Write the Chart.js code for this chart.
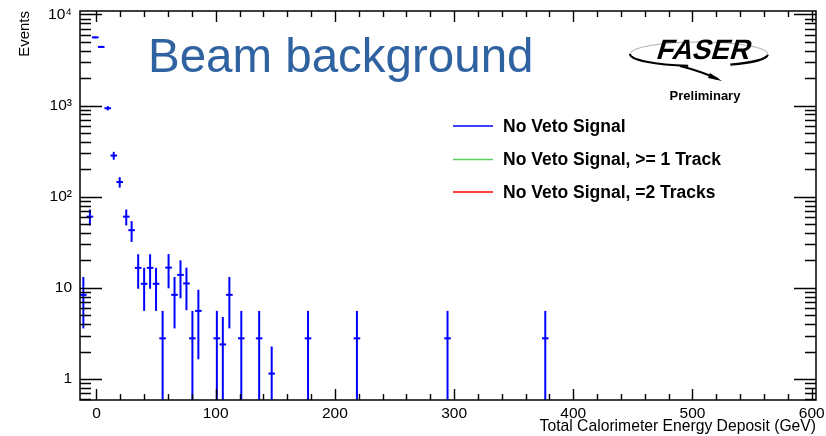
<!DOCTYPE html>
<html>
<head>
<meta charset="utf-8">
<script src="https://cdn.jsdelivr.net/npm/chart.js@4.4.1/dist/chart.umd.min.js"></script>
<style>
  html, body { margin: 0; padding: 0; background: #fff; }
</style>
</head>
<body>
<canvas id="chart" width="826" height="436"></canvas>
<script>
// Bin centres (GeV), event counts and their errors
const ENERGY = [-11, -5.5, -1, 4, 9.5, 14.5, 19.5, 25, 29.5, 35, 40, 45, 50, 55.5, 60.5, 65.5,
                70.5, 75.5, 80.5, 85.5, 101, 106, 111.5, 121.5, 136.5, 147, 177.5, 218.5, 294.5, 376.5];
const EVENTS = [8.4, 60.5, 5600, 4400, 936, 283, 145, 60.5, 43, 16.6, 11.1, 16.6, 11.1, 2.8, 16.7, 8.4,
                13.9, 11.2, 2.8, 5.6, 2.8, 2.4, 8.4, 2.8, 2.8, 1.15, 2.8, 2.8, 2.8, 2.8];
const ERRORS = [4.8, 12, 125, 110, 51, 28, 19, 12, 11, 6.8, 5.5, 6.8, 5.5, 2.8, 6.8, 4.8,
                6.2, 5.5, 2.8, 3.95, 2.8, 2.4, 4.8, 2.8, 2.8, 1.13, 2.8, 2.8, 2.8, 2.8];

const SERIES_LABELS = ['No Veto Signal', 'No Veto Signal, >= 1 Track', 'No Veto Signal, =2 Tracks'];
const SERIES_COLORS = ['#0000ff', '#5fcc5f', '#ff0000'];

const X_TICKS = [0, 100, 200, 300, 400, 500, 600];
const Y_TICKS = [1, 10, 100, 1000, 10000];
const Y_TICK_LABELS = ['1', '10', '10²', '10³', '10⁴'];

const X_MIN = -13.8, X_MAX = 603.6;
const Y_MIN = 0.59, Y_MAX = 10900;

const FONT = '"Liberation Sans", Arial, Helvetica, sans-serif';

// vertical error bars, drawn through the chart's scales
const errorBars = {
  id: 'errorBars',
  beforeDatasetsDraw(chart) {
    const { ctx, chartArea: a, scales: { x, y } } = chart;
    ctx.save();
    ctx.beginPath();
    ctx.rect(a.left, a.top, a.right - a.left, a.bottom - a.top);
    ctx.clip();
    ctx.strokeStyle = SERIES_COLORS[0];
    ctx.lineWidth = 2;
    ENERGY.forEach((e, i) => {
      const px = x.getPixelForValue(e);
      const lo = Math.max(EVENTS[i] - ERRORS[i], Y_MIN * 0.5);
      const y1 = y.getPixelForValue(EVENTS[i] + ERRORS[i]);
      const y2 = y.getPixelForValue(lo);
      ctx.beginPath();
      ctx.moveTo(px, y1);
      ctx.lineTo(px, y2);
      ctx.stroke();
    });
    ctx.restore();
  },
};

// ROOT style frame with inward ticks on all four sides
const frame = {
  id: 'frame',
  afterDraw(chart) {
    const { ctx, chartArea: a, scales: { x, y } } = chart;
    ctx.save();
    ctx.strokeStyle = '#000';
    ctx.lineWidth = 1.5;
    ctx.strokeRect(a.left, a.top, a.right - a.left, a.bottom - a.top);

    ctx.lineWidth = 1.4;
    const xTick = (v, len) => {
      const px = Math.round(x.getPixelForValue(v)) + 0.5;
      ctx.beginPath();
      ctx.moveTo(px, a.bottom); ctx.lineTo(px, a.bottom - len);
      ctx.moveTo(px, a.top);    ctx.lineTo(px, a.top + len);
      ctx.stroke();
    };
    const yTick = (v, len) => {
      const py = Math.round(y.getPixelForValue(v)) + 0.5;
      ctx.beginPath();
      ctx.moveTo(a.left, py);  ctx.lineTo(a.left + len, py);
      ctx.moveTo(a.right, py); ctx.lineTo(a.right - len, py);
      ctx.stroke();
    };
    for (let v = 20; v < X_MAX; v += 20) if (v % 100) xTick(v, 6);
    X_TICKS.forEach(v => xTick(v, 11));
    Y_TICKS.concat([0.1]).forEach(dec => {
      for (let m = 2; m <= 9; m++) {
        const v = dec * m;
        if (v > Y_MIN && v < Y_MAX) yTick(v, 11);
      }
    });
    Y_TICKS.forEach(v => yTick(v, 22));
    ctx.restore();
  },
};

// legend, title and logo drawn in the pad
const annotations = {
  id: 'annotations',
  afterDraw(chart) {
    const { ctx } = chart;
    ctx.save();
    ctx.fillStyle = '#2e62a0';
    ctx.font = `47.5px ${FONT}`;
    ctx.textBaseline = 'alphabetic';
    ctx.fillText('Beam background', 148, 72);

    // legend from the datasets
    const rows = [126, 159.5, 192];
    chart.data.datasets.forEach((ds, i) => {
      ctx.strokeStyle = ds.borderColor;
      ctx.lineWidth = 1.6;
      ctx.beginPath();
      ctx.moveTo(453, rows[i]); ctx.lineTo(493, rows[i]);
      ctx.stroke();
      ctx.fillStyle = '#000';
      ctx.font = `bold 17.5px ${FONT}`;
      ctx.textBaseline = 'middle';
      ctx.fillText(ds.label, 503, rows[i] + 1);
    });

    // FASER logo
    ctx.strokeStyle = '#999';
    ctx.lineWidth = 0.8;
    ctx.beginPath();
    ctx.ellipse(699, 54, 69, 12, 0, Math.PI * 1.0, Math.PI * 2.05);
    ctx.stroke();
    ctx.strokeStyle = '#000';
    ctx.lineWidth = 2.2;
    ctx.beginPath();
    ctx.ellipse(699, 54, 69, 12, 0, Math.PI * 0.55, Math.PI * 1.0);
    ctx.stroke();
    ctx.beginPath();
    ctx.ellipse(699, 54, 69, 12, 0, Math.PI * 0.02, Math.PI * 0.35);
    ctx.stroke();
    ctx.beginPath();
    ctx.moveTo(680, 66); ctx.quadraticCurveTo(700, 71, 718, 79);
    ctx.stroke();
    ctx.fillStyle = '#000';
    ctx.beginPath();
    ctx.moveTo(722, 81); ctx.lineTo(710, 73); ctx.lineTo(708, 78);
    ctx.closePath(); ctx.fill();

    ctx.save();
    ctx.translate(702, 59);
    ctx.transform(1, 0, -0.3, 1, 0, 0);
    ctx.font = `bold 28px ${FONT}`;
    ctx.textAlign = 'center';
    ctx.textBaseline = 'alphabetic';
    ctx.fillText('FASER', 0, 0);
    ctx.restore();

    ctx.font = `bold 13px ${FONT}`;
    ctx.textAlign = 'center';
    ctx.textBaseline = 'alphabetic';
    ctx.fillText('Preliminary', 705, 100);
    ctx.restore();
  },
};

new Chart(document.getElementById('chart'), {
  type: 'scatter',
  data: {
    datasets: SERIES_LABELS.map((label, i) => ({
      label,
      data: i === 0 ? ENERGY.map((e, j) => ({ x: e, y: EVENTS[j] })) : [],
      borderColor: SERIES_COLORS[i],
      backgroundColor: SERIES_COLORS[i],
      pointStyle: 'line',
      pointRadius: 3.3,
      borderWidth: 2,
      showLine: false,
    })),
  },
  options: {
    responsive: false,
    animation: false,
    layout: { padding: { top: 11, right: 10, left: 0, bottom: 0 } },
    plugins: {
      legend:  { display: false },
      tooltip: { enabled: false },
    },
    scales: {
      x: {
        type: 'linear',
        min: X_MIN,
        max: X_MAX,
        afterBuildTicks: s => { s.ticks = X_TICKS.map(v => ({ value: v })); },
        afterFit: s => { s.height = 36; s.paddingLeft = 0; s.paddingRight = 0; },
        grid:   { display: false, drawTicks: false },
        border: { display: false },
        ticks: {
          color: '#000', padding: 4, autoSkip: false, maxRotation: 0,
          font: { family: FONT, size: 15.5 },
        },
        title: {
          display: true, text: 'Total Calorimeter Energy Deposit (GeV)', align: 'end',
          color: '#000', padding: 0, font: { family: FONT, size: 15.7 },
        },
      },
      y: {
        type: 'logarithmic',
        min: Y_MIN,
        max: Y_MAX,
        afterBuildTicks: s => { s.ticks = Y_TICKS.map(v => ({ value: v })); },
        afterFit: s => { s.width = 80; s.paddingTop = 0; s.paddingBottom = 0; },
        grid:   { display: false, drawTicks: false },
        border: { display: false },
        ticks: {
          color: '#000', padding: 8, autoSkip: false,
          font: { family: FONT, size: 15.5 },
          callback: v => Y_TICK_LABELS[Y_TICKS.indexOf(v)] ?? '',
        },
        title: {
          display: true, text: 'Events', align: 'end',
          color: '#000', padding: { top: 16 }, font: { family: FONT, size: 15 },
        },
      },
    },
  },
  plugins: [errorBars, frame, annotations],
});
</script>
</body>
</html>
